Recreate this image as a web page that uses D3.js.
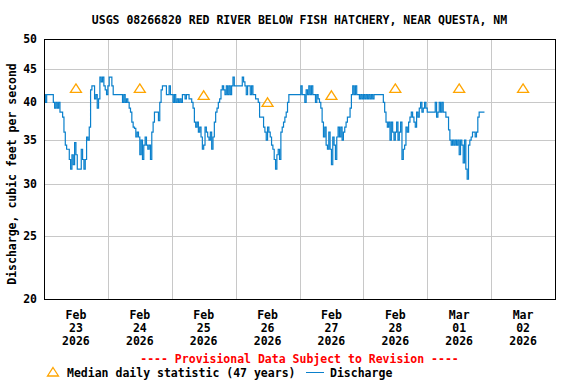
<!DOCTYPE html>
<html>
<head>
<meta charset="utf-8">
<script src="https://cdn.jsdelivr.net/npm/d3@7"></script>
<style>
  body { margin: 0; background: #fff; }
  text { font-family: "DejaVu Sans Mono", monospace; font-weight: bold; font-size: 11.5px; }
</style>
</head>
<body>
<div id="chart"></div>
<script>
// discharge, one reading every 30 minutes starting at midnight of each day
let feb23Flow = [41.1,40, 41.1,41.1, 41.1,41.1, 41.1,40, 39.2,40, 39.2,40,
  38.65,38.65, 37.97,36, 34.4,33.9, 33.9,32.7, 31.6,33.25, 32.1,34.7,
  33.25,31.6, 31.6,31.6, 33.9,32.7, 31.6,32.7, 35.4,35, 36.65,41.8,
  42.4,42.4, 40.5,41.1, 39.2,40.5, 43.7,43, 43.7,42.4, 41.8,41.1]
let feb24Flow = [42.4,43.7, 43.7,42.4, 41.1,41.1, 41.1,41.1, 41.1,41.1, 41.1,40,
  41.1,40, 40.5,40, 39.2,38.65, 37.3,36.65, 36.5,35.4, 36,35.4,
  33.25,35, 32.7,34.4, 35.4,34.4, 33.9,34.4, 32.7,36, 37.3,38.65,
  38.65,38.65, 37.5,40, 41.8,42.4, 42.4,42.4, 41.1,41.1, 42.4,41.1]
let feb25Flow = [41.1,40, 41.1,40, 40.5,40, 40.5,40, 41.1,41.1, 40.5,41.1,
  41.1,40.5, 40.5,40, 39.2,37.3, 36.65,37.3, 36,36.65, 35.4,33.9,
  34.4,36.65, 36,35.4, 35,36, 33.9,35.4, 37.3,38.65, 39.2,40,
  40.5,41.8, 42.4,41.8, 41.1,42.4, 41.1,42.4, 41.1,42.4, 43.7,42.4]
let feb26Flow = [42.4,42.4, 42.4,42.4, 42.4,43.7, 43,42.4, 41.1,42.4, 42.4,41.1,
  42.4,41.1, 41.1,40.5, 40.5,40, 37.97,37.97, 37.97,36.65, 36,35,
  36.65,36, 35.4,34.4, 33.9,32.7, 31.6,33.25, 33.9,32.7, 36,36.65,
  37.3,37.97, 38.65,40, 41.1,41.1, 41.1,41.1, 41.1,41.1, 41.1,41.1]
let feb27Flow = [41.1,42.4, 41.1,41.1, 40,41.8, 41.1,42.4, 41.1,42.4, 41.1,41.1,
  40,41.1, 40.5,40, 39.2,37.3, 35.4,36.65, 34.4,33.9, 36,33.9,
  32.1,35.4, 34.4,32.7, 35.4,36.65, 35.4,36.65, 35,36, 36.65,37.3,
  37.97,37.97, 39.2,41.1, 42.4,41.1, 42.4,41.1, 41.1,40.5, 41.1,40.5]
let feb28Flow = [41.1,40.5, 41.1,40.5, 41.1,40.5, 41.1,40.5, 41.1,41.1, 41.1,41.1,
  41.1,41.1, 41.1,40, 38.65,37.3, 36.65,37.3, 35,37.3, 36,35,
  36,37.3, 35,36, 37.3,32.7, 33.9,34.4, 36.65,36, 37.3,37.97,
  38.65,37.97, 37.3,36.65, 38.65,37.97, 39.2,40, 38.65,39.2, 40,39.2]
let mar01Flow = [38.65,38.65, 38.65,38.65, 38.65,38.65, 40,37.97, 38.65,40, 38.65,40,
  38.65,38.65, 37.97,37.97, 36.3,35, 34.4,35, 34.4,35, 34.4,35,
  33.25,35, 34.4,32.3, 35,31.6, 30.5,34.4, 35,35.4, 36,36,
  35.4,36, 37.97,38.65, 38.65,38.65, 38.65,38.65]

// median daily statistic (47 years)
let medianDays = ['2026-02-23','2026-02-24','2026-02-25','2026-02-26','2026-02-27','2026-02-28','2026-03-01','2026-03-02']
let medianFlow = [42, 42, 41, 40, 41, 42, 42, 42]

let yTicks = [20, 25, 30, 35, 40, 45, 50]
let yGrid = [25, 30, 35, 40, 45]

let parseDay = d3.timeParse('%Y-%m-%d')
let startTime = parseDay('2026-02-23')
let endTime = parseDay('2026-03-03')

let flow = [].concat(feb23Flow, feb24Flow, feb25Flow, feb26Flow, feb27Flow, feb28Flow, mar01Flow)
let flowData = flow.map((v, i) => ({ t: d3.timeMinute.offset(startTime, i * 30), v: v }))

let plotLeft = 44, plotRight = 555, plotTop = 39, plotBottom = 299

let svg = d3.select('#chart').append('svg')
  .attr('width', 576)
  .attr('height', 384)

let x = d3.scaleTime().domain([startTime, endTime]).range([plotLeft, plotRight])
let y = d3.scaleLog().domain([20, 50]).range([plotBottom, plotTop])

// grid
svg.selectAll('.hgrid')
  .data(yGrid)
  .enter()
  .append('line')
  .attr('x1', plotLeft).attr('x2', plotRight)
  .attr('y1', d => Math.round(y(d)) + 0.5)
  .attr('y2', d => Math.round(y(d)) + 0.5)
  .attr('stroke', '#c8c8c8')

let midnights = d3.timeDay.range(d3.timeDay.offset(startTime, 1), endTime)
svg.selectAll('.vgrid')
  .data(midnights)
  .enter()
  .append('line')
  .attr('y1', plotTop).attr('y2', plotBottom)
  .attr('x1', d => Math.round(x(d)) + 0.5)
  .attr('x2', d => Math.round(x(d)) + 0.5)
  .attr('stroke', '#c8c8c8')

// discharge line
let line = d3.line()
  .x(d => x(d.t))
  .y(d => y(d.v))
  .curve(d3.curveStepAfter)

svg.append('path')
  .datum(flowData)
  .attr('d', line)
  .attr('fill', 'none')
  .attr('stroke', '#0a80cc')
  .attr('stroke-width', 1.2)

// median triangles
let tri = (cx, cy) => 'M' + cx + ',' + (cy - 4.5) + 'L' + (cx + 5.5) + ',' + (cy + 4) + 'L' + (cx - 5.5) + ',' + (cy + 4) + 'Z'

svg.selectAll('.median')
  .data(medianDays)
  .enter()
  .append('path')
  .attr('d', (d, i) => tri(x(d3.timeHour.offset(parseDay(d), 12)), y(medianFlow[i])))
  .attr('fill', 'none')
  .attr('stroke', '#ffa500')
  .attr('stroke-width', 1.3)

// frame
svg.append('rect')
  .attr('x', plotLeft + 0.5).attr('y', plotTop + 0.5)
  .attr('width', plotRight - plotLeft).attr('height', plotBottom - plotTop)
  .attr('fill', 'none')
  .attr('stroke', '#000')

// y axis labels
svg.selectAll('.ytick')
  .data(yTicks)
  .enter()
  .append('text')
  .attr('x', 37)
  .attr('y', d => y(d))
  .attr('dy', '0.35em')
  .attr('text-anchor', 'end')
  .text(d => d)

svg.append('text')
  .attr('transform', 'translate(12,174) rotate(-90)')
  .attr('dy', '0.35em')
  .attr('text-anchor', 'middle')
  .text('Discharge, cubic feet per second')

// x axis labels at noon
let labelDays = d3.timeDay.range(startTime, endTime)
let xl = svg.selectAll('.xtick')
  .data(labelDays)
  .enter()
  .append('text')
  .attr('text-anchor', 'middle')

xl.append('tspan')
  .attr('x', d => x(d3.timeHour.offset(d, 12)))
  .attr('y', 319)
  .text(d => d3.timeFormat('%b')(d))
xl.append('tspan')
  .attr('x', d => x(d3.timeHour.offset(d, 12)))
  .attr('y', 332)
  .text(d => d3.timeFormat('%d')(d))
xl.append('tspan')
  .attr('x', d => x(d3.timeHour.offset(d, 12)))
  .attr('y', 345)
  .text(d => d3.timeFormat('%Y')(d))

// title
svg.append('text')
  .attr('x', (plotLeft + plotRight) / 2)
  .attr('y', 24)
  .attr('text-anchor', 'middle')
  .text('USGS 08266820 RED RIVER BELOW FISH HATCHERY, NEAR QUESTA, NM')

// legend
svg.append('text')
  .attr('x', (plotLeft + plotRight) / 2)
  .attr('y', 363)
  .attr('text-anchor', 'middle')
  .attr('fill', '#ff0000')
  .text('---- Provisional Data Subject to Revision ----')

svg.append('path')
  .attr('d', tri(53, 372))
  .attr('fill', 'none')
  .attr('stroke', '#ffa500')
  .attr('stroke-width', 1.3)

svg.append('text')
  .attr('x', 67)
  .attr('y', 377)
  .text('Median daily statistic (47 years)')

svg.append('line')
  .attr('x1', 306).attr('x2', 324)
  .attr('y1', 372.5).attr('y2', 372.5)
  .attr('stroke', '#0a80cc')

svg.append('text')
  .attr('x', 330)
  .attr('y', 377)
  .text('Discharge')
</script>
</body>
</html>
